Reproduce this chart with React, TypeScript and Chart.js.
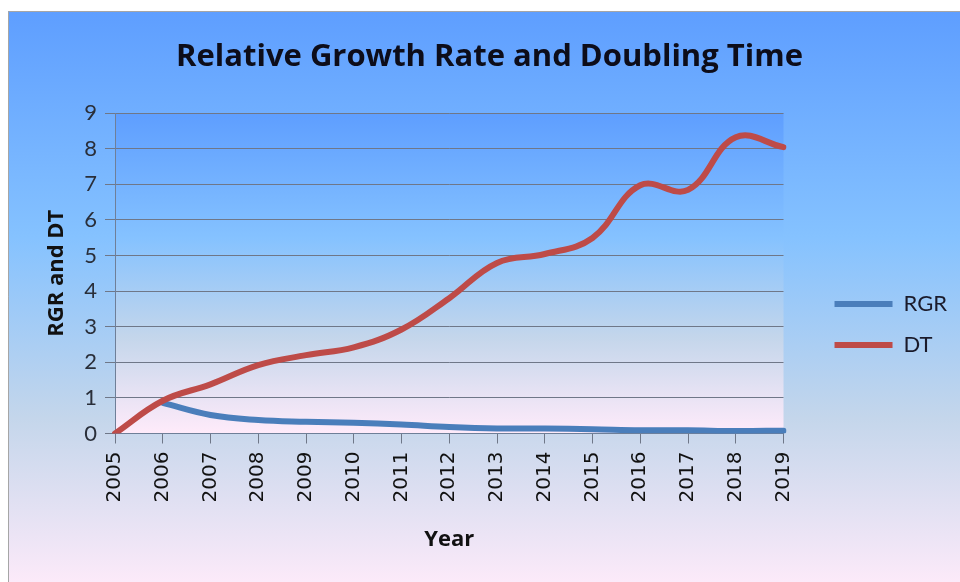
import React, { useEffect, useRef } from "react";
import { Chart, registerables } from "chart.js";

Chart.register(...registerables);

const years = ["2005","2006","2007","2008","2009","2010","2011","2012","2013","2014","2015","2016","2017","2018","2019"];
const rgr: (number | null)[] = [null, 0.86, 0.52, 0.38, 0.33, 0.30, 0.25, 0.18, 0.14, 0.14, 0.12, 0.09, 0.09, 0.07, 0.08];
const dt: number[] = [0, 0.92, 1.38, 1.92, 2.2, 2.42, 2.92, 3.8, 4.79, 5.04, 5.49, 6.97, 6.84, 8.32, 8.04];
const yTicks = [0, 1, 2, 3, 4, 5, 6, 7, 8, 9];

const GRAD_STOPS: [number, string][] = [
  [0, "#5E9EFF"],
  [0.39, "#85C2FF"],
  [0.7, "#C4D6EB"],
  [1, "#FFEBFA"],
];

const backgroundPlugin = {
  id: "excelBackground",
  beforeDraw(chart: any) {
    const { ctx, width, height, chartArea } = chart;
    ctx.save();
    ctx.fillStyle = "#ffffff";
    ctx.fillRect(0, 0, width, height);
    const outerTop = 11;
    const outerLeft = 8;
    const g = ctx.createLinearGradient(0, outerTop, 0, 592);
    GRAD_STOPS.forEach(([o, c]) => g.addColorStop(o, c));
    ctx.fillStyle = g;
    ctx.fillRect(outerLeft, outerTop, width - outerLeft, height - outerTop);
    ctx.strokeStyle = "#a6a6a6";
    ctx.lineWidth = 1;
    ctx.beginPath();
    ctx.moveTo(outerLeft + 0.5, height);
    ctx.lineTo(outerLeft + 0.5, outerTop + 0.5);
    ctx.lineTo(width, outerTop + 0.5);
    ctx.stroke();
    const pg = ctx.createLinearGradient(0, chartArea.top, 0, chartArea.bottom);
    GRAD_STOPS.forEach(([o, c]) => pg.addColorStop(o, c));
    ctx.fillStyle = pg;
    ctx.fillRect(chartArea.left, chartArea.top, chartArea.right - chartArea.left, chartArea.bottom - chartArea.top);
    ctx.restore();
  },
};

export default function App() {
  const ref = useRef<HTMLCanvasElement | null>(null);
  useEffect(() => {
    document.body.style.margin = "0";
    if (!ref.current) return;
    const chart = new Chart(ref.current, {
      type: "line",
      data: {
        labels: years,
        datasets: [
          {
            label: "RGR",
            data: rgr,
            borderColor: "#4A7EBB",
            backgroundColor: "#4A7EBB",
            borderWidth: 6,
            borderCapStyle: "round",
            borderJoinStyle: "round",
            pointRadius: 0,
            tension: 0.4,
            yAxisID: "y",
            order: 1,
          },
          {
            label: "DT",
            data: dt,
            borderColor: "#BE4B48",
            backgroundColor: "#BE4B48",
            borderWidth: 6,
            borderCapStyle: "round",
            borderJoinStyle: "round",
            pointRadius: 0,
            tension: 0.4,
            yAxisID: "y",
            order: 0,
          },
        ],
      },
      options: {
        responsive: false,
        animation: false,
        devicePixelRatio: 1,
        layout: { padding: { left: 22, right: 3, top: 0, bottom: 0 } },
        plugins: {
          tooltip: { enabled: false },
          title: {
            display: true,
            text: "Relative Growth Rate and Doubling Time",
            color: "#0d0d1a",
            font: { family: "Open Sans", size: 31, weight: "bold", lineHeight: 1.2 },
            padding: { top: 38.4, bottom: 37.4 },
          },
          legend: {
            display: true,
            position: "right",
            align: "center",
            title: { display: true, text: "", font: { size: 12 }, padding: { top: 52.6, bottom: 0 } },
            labels: {
              usePointStyle: true,
              pointStyle: "line",
              pointStyleWidth: 58,
              boxHeight: 6,
              padding: 19,
              color: "#1a1a2a",
              font: { family: "Lato", size: 22 },
              sort: (a: any, b: any) => a.datasetIndex - b.datasetIndex,
            },
          },
        },
        scales: {
          x: {
            type: "category",
            offset: false,
            grid: { display: true, drawOnChartArea: false, drawTicks: true, tickLength: 10, color: "#6f7788" },
            border: { display: true, color: "#6f7f98", width: 1 },
            ticks: {
              autoSkip: false,
              minRotation: 90,
              maxRotation: 90,
              padding: 8,
              color: "#111111",
              font: { family: "DejaVu Sans", size: 20 },
            },
            title: {
              display: true,
              text: "Year",
              color: "#111111",
              font: { family: "Open Sans", size: 22, weight: "bold", lineHeight: 1.2 },
              padding: { top: 0, bottom: 28.8 },
            },
            afterFit: (s: any) => { s.height = 148.5; },
          },
          y: {
            type: "linear",
            position: "left",
            min: 0,
            max: 9,
            afterBuildTicks: (s: any) => { s.ticks = yTicks.map((v) => ({ value: v })); },
            grid: { display: true, drawOnChartArea: true, drawTicks: true, tickLength: 10, color: "#6f7788", lineWidth: 1 },
            border: { display: true, color: "#6f7f98", width: 1 },
            ticks: {
              padding: 8,
              color: "#2a2f3a",
              font: { family: "Lato", size: 22 },
            },
            title: {
              display: true,
              text: "RGR and DT",
              color: "#111111",
              font: { family: "Open Sans", size: 22, weight: "bold", lineHeight: 1.2 },
              padding: { top: 21.8, bottom: 0 },
            },
            afterFit: (s: any) => { s.width = 93; },
          },
          y2: {
            type: "linear",
            position: "right",
            display: true,
            grid: { display: false, drawOnChartArea: false, drawTicks: false },
            border: { display: false },
            ticks: { display: false },
            afterFit: (s: any) => { s.width = 32; },
          },
        },
      },
      plugins: [backgroundPlugin],
    } as any);
    return () => chart.destroy();
  }, []);
  return (
    <div style={{ width: 960, height: 582 }}>
      <canvas ref={ref} width={960} height={582} style={{ display: "block", width: 960, height: 582 }} />
    </div>
  );
}
